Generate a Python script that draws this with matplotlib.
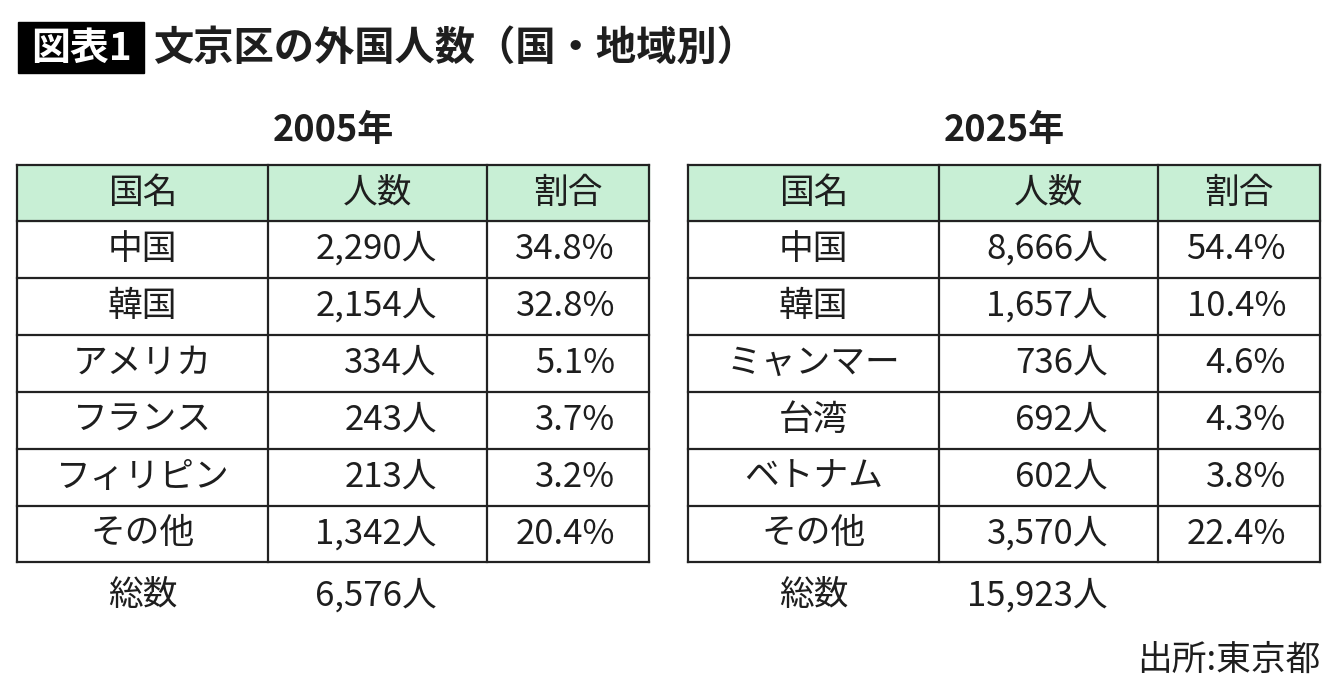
import matplotlib.pyplot as plt
from matplotlib.patches import Rectangle

plt.rcParams['font.family'] = ['Noto Sans CJK JP', 'DejaVu Sans']

title = "文京区の外国人数（国・地域別）"
headers = ["国名", "人数", "割合"]

years = ["2005年", "2025年"]
names_2005 = ["中国", "韓国", "アメリカ", "フランス", "フィリピン", "その他"]
people_2005 = [2290, 2154, 334, 243, 213, 1342]
share_2005 = [34.8, 32.8, 5.1, 3.7, 3.2, 20.4]
total_2005 = 6576

names_2025 = ["中国", "韓国", "ミャンマー", "台湾", "ベトナム", "その他"]
people_2025 = [8666, 1657, 736, 692, 602, 3570]
share_2025 = [54.4, 10.4, 4.6, 4.3, 3.8, 22.4]
total_2025 = 15923

TXT = "#1e1e1e"
HEAD = "#c8efd5"

fig = plt.figure(figsize=(13.4, 6.98), dpi=100)
ax = fig.add_axes([0, 0, 1, 1])
ax.set_xlim(0, 1340)
ax.set_ylim(698, 0)
ax.axis("off")

# title
ax.add_patch(Rectangle((18, 22), 126, 51, color="black"))
ax.text(81, 48, "図表1", color="white", fontsize=28, fontweight="bold",
        ha="center", va="center")
ax.text(154, 48, title, color=TXT, fontsize=29, fontweight="bold",
        ha="left", va="center")


def draw_table(x0, year, names, people, share, total):
    cols = [x0, x0 + 251, x0 + 470, x0 + 632]
    rows = [165, 221, 278, 335, 392, 449, 506, 562]
    ax.text((cols[0] + cols[-1]) / 2, 130, year, fontsize=26,
            fontweight="bold", ha="center", va="center", color=TXT)
    ax.add_patch(Rectangle((cols[0], rows[0]), cols[-1] - cols[0],
                           rows[1] - rows[0], color=HEAD, zorder=0))
    for y in rows:
        ax.plot([cols[0], cols[-1]], [y, y], color="#222222", lw=1.6,
                solid_capstyle="projecting")
    for x in cols:
        ax.plot([x, x], [rows[0], rows[-1]], color="#222222", lw=1.6,
                solid_capstyle="projecting")
    fs = 25
    for j, h in enumerate(headers):
        ax.text((cols[j] + cols[j + 1]) / 2, (rows[0] + rows[1]) / 2, h,
                fontsize=fs, ha="center", va="center", color=TXT)
    for i in range(len(names)):
        yc = (rows[i + 1] + rows[i + 2]) / 2
        ax.text((cols[0] + cols[1]) / 2, yc, names[i], fontsize=fs,
                ha="center", va="center", color=TXT)
        ax.text(cols[2] - 50, yc, f"{people[i]:,}人", fontsize=fs,
                ha="right", va="center", color=TXT)
        ax.text(cols[3] - 34, yc, f"{share[i]:.1f}%", fontsize=fs,
                ha="right", va="center", color=TXT)
    ax.text((cols[0] + cols[1]) / 2, 596, "総数", fontsize=fs,
            ha="center", va="center", color=TXT)
    ax.text(cols[2] - 50, 596, f"{total:,}人", fontsize=fs,
            ha="right", va="center", color=TXT)


draw_table(17, years[0], names_2005, people_2005, share_2005, total_2005)
draw_table(688, years[1], names_2025, people_2025, share_2025, total_2025)

ax.text(1320, 660, "出所:東京都", fontsize=25, ha="right", va="center", color=TXT)

fig.savefig("out.png", dpi=100)
